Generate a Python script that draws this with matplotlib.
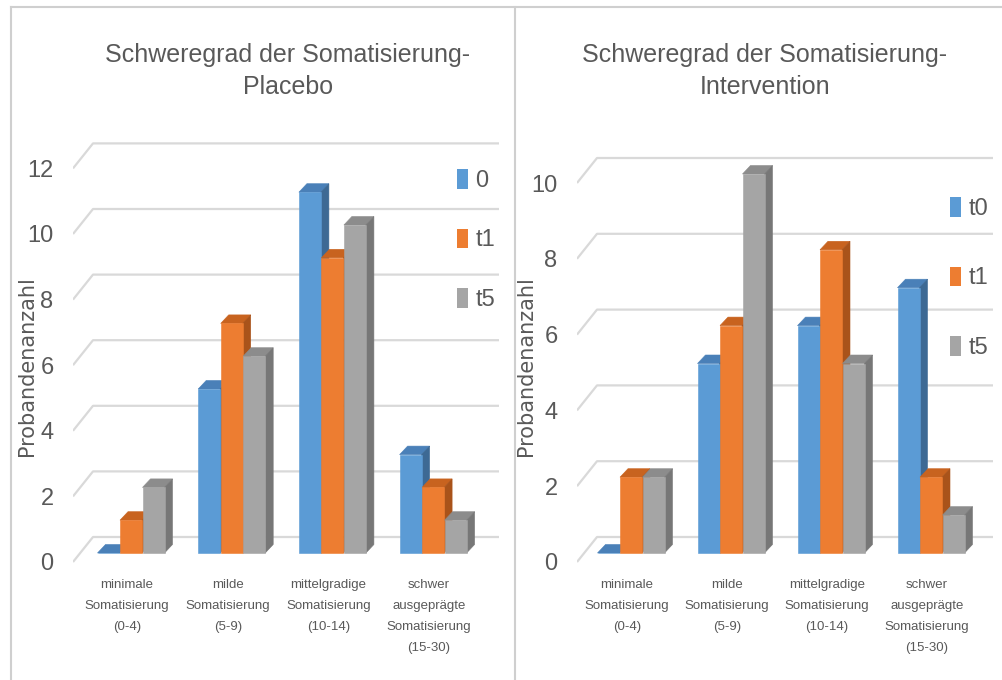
import numpy as np
import matplotlib
matplotlib.use("Agg")
import matplotlib.pyplot as plt
from matplotlib.patches import Polygon, Patch
from matplotlib.lines import Line2D

plt.rcParams['font.family'] = ['Liberation Sans Narrow', 'Liberation Sans', 'DejaVu Sans']

CATEGORIES = [
    "minimale\nSomatisierung\n(0-4)",
    "milde\nSomatisierung\n(5-9)",
    "mittelgradige\nSomatisierung\n(10-14)",
    "schwer\nausgeprägte\nSomatisierung\n(15-30)",
]

PLACEBO_T0 = [0, 5, 11, 3]
PLACEBO_T1 = [1, 7, 9, 2]
PLACEBO_T5 = [2, 6, 10, 1]
PLACEBO_LABELS = ["0", "t1", "t5"]
PLACEBO_TICKS = [0, 2, 4, 6, 8, 10, 12]

INTERV_T0 = [0, 5, 6, 7]
INTERV_T1 = [2, 6, 8, 2]
INTERV_T5 = [2, 10, 5, 1]
INTERV_LABELS = ["t0", "t1", "t5"]
INTERV_TICKS = [0, 2, 4, 6, 8, 10]

# front, top, side colours of the pseudo-3D columns
COLORS = [
    ("#5B9BD5", "#4A80B8", "#3D6994"),
    ("#ED7D31", "#C8631F", "#A9531A"),
    ("#A5A5A5", "#8C8C8C", "#777777"),
]
TEXT = "#595959"
GRID = "#D9D9D9"
FRAME = "#CFCFCF"

W, H = 1002, 680

# depth of the floor and of the columns, in pixels
FLOOR_DX, FLOOR_DY = 20, 25
BAR_LIFT = 9
BAR_W, BAR_STEP = 22, 22.5
BAR_DX, BAR_DY = 8, 8.5


def panel(fig, frame, title, title_x, series, labels, ticks,
          ylabel_x, legend_at, legend_gap):
    x0, xs, y0, ys, left, right, top, bottom = frame
    ax = fig.add_axes([left / W, 1 - bottom / H, (right - left) / W, (bottom - top) / H])
    xlim = ((left - x0) / xs, (right - x0) / xs)
    ylim = ((y0 - bottom) / ys, (y0 - top) / ys)
    ax.set_xlim(xlim)
    ax.set_ylim(ylim)
    ax.set_facecolor("none")
    for s in ax.spines.values():
        s.set_visible(False)

    fdx, fdy = FLOOR_DX / xs, FLOOR_DY / ys
    for v in ticks:
        ax.plot([xlim[0], xlim[0] + fdx, xlim[1]], [v, v + fdy, v + fdy],
                color=GRID, lw=1.6, zorder=1, solid_capstyle="butt")

    lift = BAR_LIFT / ys
    w, step = BAR_W / xs, BAR_STEP / xs
    bdx, bdy = BAR_DX / xs, BAR_DY / ys
    pos = np.arange(len(CATEGORIES))
    for k, (vals, (front, top_c, side)) in enumerate(zip(series, COLORS)):
        xc = pos + (k - 1) * step
        z = 2 + k
        ax.bar(xc, vals, width=w, bottom=lift, color=front, edgecolor=front,
               linewidth=0.4, zorder=z + 0.5)
        for x, v in zip(xc, vals):
            h = lift + v
            ax.add_patch(Polygon(
                [(x - w / 2, h), (x + w / 2, h), (x + w / 2 + bdx, h + bdy), (x - w / 2 + bdx, h + bdy)],
                closed=True, facecolor=top_c, edgecolor=top_c, lw=0.4, zorder=z))
            ax.add_patch(Polygon(
                [(x + w / 2, lift), (x + w / 2 + bdx, lift + bdy), (x + w / 2 + bdx, h + bdy), (x + w / 2, h)],
                closed=True, facecolor=side, edgecolor=side, lw=0.4, zorder=z))

    ax.set_yticks(ticks, [str(t) for t in ticks])
    ax.tick_params(axis="y", length=0, pad=14, labelsize=17, labelcolor=TEXT)
    ax.set_xticks(pos - 4 / xs, CATEGORIES, linespacing=2.0)
    ax.tick_params(axis="x", length=0, pad=6, labelsize=9.5, labelcolor=TEXT)

    handles = [Patch(facecolor=c[0], edgecolor="none") for c in COLORS]
    ax.legend(handles, labels, loc="center left",
              bbox_to_anchor=(legend_at[0] / W, 1 - legend_at[1] / H),
              bbox_transform=fig.transFigure, frameon=False, fontsize=17,
              handlelength=0.47, handleheight=0.9, handletextpad=0.3,
              labelspacing=legend_gap, borderpad=0, borderaxespad=0,
              labelcolor=TEXT)

    fig.text(title_x / W, 1 - 71 / H, title, ha="center", va="center",
             multialignment="center", fontsize=18, color=TEXT, linespacing=1.45)
    fig.text(ylabel_x / W, 1 - 366 / H, "Probandenanzahl", rotation=90,
             ha="center", va="center", fontsize=15, color=TEXT,
             family="DejaVu Sans")
    return ax


fig = plt.figure(figsize=(W / 100, H / 100), dpi=100)
fig.patch.set_facecolor("white")

panel(fig, (131, 100.7, 562, 32.8, 73, 499, 135, 571),
      "Schweregrad der Somatisierung-\nPlacebo", 288,
      [PLACEBO_T0, PLACEBO_T1, PLACEBO_T5], PLACEBO_LABELS, PLACEBO_TICKS,
      27, (457, 240), 1.55)

panel(fig, (631, 100.0, 562, 37.9, 577, 993, 140, 571),
      "Schweregrad der Somatisierung-\nIntervention", 765,
      [INTERV_T0, INTERV_T1, INTERV_T5], INTERV_LABELS, INTERV_TICKS,
      526, (950, 278), 1.97)

# chart frames
for line in [([11, 11], [7, H]), ([11, W], [7, 7]), ([515, 515], [7, H])]:
    fig.add_artist(Line2D([x / W for x in line[0]], [1 - y / H for y in line[1]],
                          transform=fig.transFigure, color=FRAME, lw=1.5))

fig.savefig("out.png", dpi=100)
